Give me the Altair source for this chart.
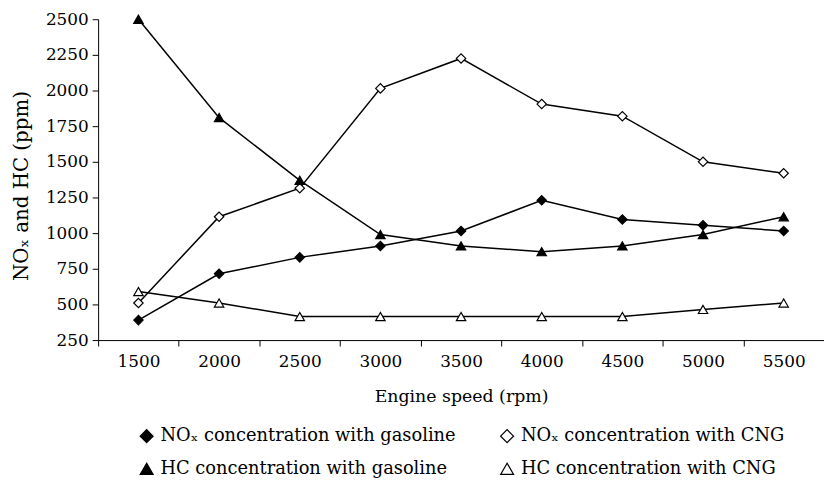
import altair as alt
import pandas as pd

speeds = ["1500", "2000", "2500", "3000", "3500", "4000", "4500", "5000", "5500"]
nox_gasoline = [390, 715, 830, 910, 1015, 1230, 1095, 1055, 1015]
nox_cng = [510, 1115, 1315, 2015, 2225, 1905, 1820, 1500, 1420]
hc_gasoline = [2500, 1810, 1370, 990, 910, 870, 910, 990, 1115]
hc_cng = [590, 510, 415, 415, 415, 415, 415, 465, 510]

series_names = [
    "NOₓ concentration with gasoline",
    "NOₓ concentration with CNG",
    "HC concentration with gasoline",
    "HC concentration with CNG",
]
series_values = [nox_gasoline, nox_cng, hc_gasoline, hc_cng]
shapes = ["diamond", "diamond", "triangle-up", "triangle-up"]
fills = ["black", "white", "black", "white"]
strokes = ["black", "black", "black", "black"]
y_ticks = [250, 500, 750, 1000, 1250, 1500, 1750, 2000, 2250, 2500]

rows = []
for name, vals in zip(series_names, series_values):
    for s, v in zip(speeds, vals):
        rows.append({"speed": s, "value": v, "series": name})
df = pd.DataFrame(rows)

FONT = "DejaVu Serif"

legend = alt.Legend(
    title=None,
    orient="none",
    direction="horizontal",
    legendX=40,
    legendY=412,
    columns=2,
    columnPadding=42,
    rowPadding=15,
    labelFont=FONT,
    labelFontSize=18,
    labelColor="black",
    labelOffset=5,
    labelLimit=500,
    symbolSize=170,
    symbolStrokeColor="black",
    symbolStrokeWidth=1.2,
    padding=0,
)

x_enc = alt.X(
    "speed:N",
    sort=speeds,
    scale=alt.Scale(paddingInner=0, paddingOuter=0),
    axis=alt.Axis(
        title="Engine speed (rpm)",
        labelAngle=0,
        tickBand="extent",
        tickSize=6,
        labelPadding=8,
        titleY=62,
        titleBaseline="alphabetic",
        titleFontSize=17.5,
    ),
)
y_enc = alt.Y(
    "value:Q",
    scale=alt.Scale(domain=[250, 2500], nice=False, zero=False),
    axis=alt.Axis(
        title="NOₓ and HC (ppm)",
        values=y_ticks,
        format="d",
        tickSize=6,
        labelPadding=4,
        titleX=-71,
        titleY=168,
        titleAngle=-90,
        titleAlign="center",
        titleBaseline="alphabetic",
        titleFontSize=20,
    ),
)

lines = alt.Chart(df).mark_line(color="black", strokeWidth=1.5).encode(
    x=x_enc, y=y_enc, detail="series:N"
)

points = alt.Chart(df).mark_point(
    filled=False, strokeWidth=1.2, size=90, opacity=1
).encode(
    x=x_enc,
    y=y_enc,
    stroke=alt.Stroke("series:N", scale=alt.Scale(domain=series_names, range=strokes), legend=legend),
    shape=alt.Shape("series:N", scale=alt.Scale(domain=series_names, range=shapes), legend=legend),
    fill=alt.Fill("series:N", scale=alt.Scale(domain=series_names, range=fills), legend=legend),
)

chart = (
    alt.layer(lines, points)
    .properties(
        width=733,
        height=324,
        autosize=alt.AutoSizeParams(type="none"),
        padding={"left": 91, "top": 9, "right": 0, "bottom": 141},
    )
    .configure(background="white")
    .configure_view(stroke=None)
    .configure_axis(
        grid=False,
        domainColor="black",
        domainWidth=1,
        tickColor="black",
        tickWidth=1,
        labelFont=FONT,
        labelFontSize=17,
        labelColor="black",
        titleFont=FONT,
        titleFontWeight="normal",
        titleColor="black",
    )
)

chart.save("out.html", embed_options={"renderer": "svg", "actions": False})
